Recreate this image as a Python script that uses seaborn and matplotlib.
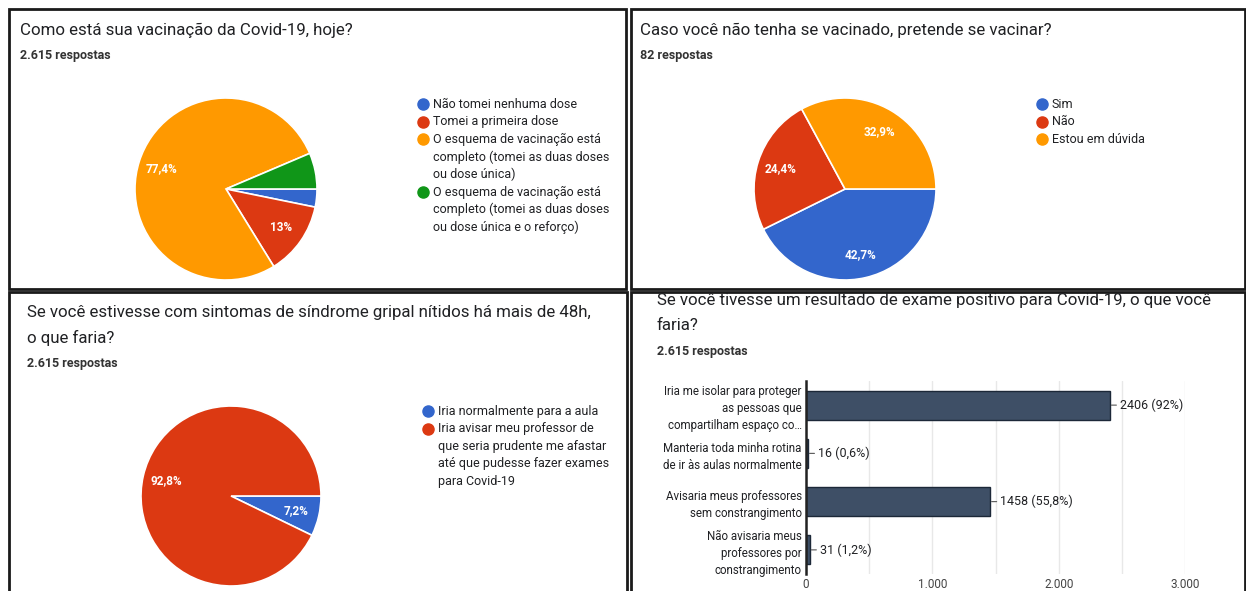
import matplotlib.pyplot as plt
import seaborn as sns
import pandas as pd
from matplotlib.lines import Line2D
from matplotlib.patches import Rectangle

# Question 1: vaccination status (% of 2.615)
vac_labels = [
    "Não tomei nenhuma dose",
    "Tomei a primeira dose",
    "O esquema de vacinação está\ncompleto (tomei as duas doses\nou dose única)",
    "O esquema de vacinação está\ncompleto (tomei as duas doses\nou dose única e o reforço)",
]
vac_pct = [3.2, 13.0, 77.4, 6.4]

# Question 2: intention to vaccinate (% of 82)
intent_labels = ["Sim", "Não", "Estou em dúvida"]
intent_pct = [42.7, 24.4, 32.9]

# Question 3: flu symptoms (% of 2.615)
symptom_labels = [
    "Iria normalmente para a aula",
    "Iria avisar meu professor de\nque seria prudente me afastar\naté que pudesse fazer exames\npara Covid-19",
]
symptom_pct = [7.2, 92.8]

# Question 4: positive test (counts, multiple choice)
positive_labels = [
    "Iria me isolar para proteger\nas pessoas que\ncompartilham espaço co…",
    "Manteria toda minha rotina\nde ir às aulas normalmente",
    "Avisaria meus professores\nsem constrangimento",
    "Não avisaria meus\nprofessores por\nconstrangimento",
]
positive_counts = [2406, 16, 1458, 31]
positive_total = 2615
x_ticks = [0, 1000, 2000, 3000]

google = ["#3366cc", "#dc3912", "#ff9900", "#109618"]
text_col = "#202124"

sns.set_theme(style="white")
plt.rcParams["font.family"] = ["Roboto", "DejaVu Sans"]

W, H = 1246, 591
fig = plt.figure(figsize=(W / 100, H / 100), dpi=100)
fig.patch.set_facecolor("white")


def box(x, y, w, h):
    # pixel box (top-left origin) -> figure fraction
    return [x / W, 1 - (y + h) / H, w / W, h / H]


def fx(x):
    return x / W


def fy(y):
    return 1 - y / H


def fmt_pct(p):
    s = f"{p:.1f}".rstrip("0").rstrip(".")
    return s.replace(".", ",") + "%"


def header(x, y, title, count_text, step=25):
    lines = title.split("\n")
    for k, line in enumerate(lines):
        fig.text(fx(x), fy(y + k * step), line, fontsize=12.2, color=text_col,
                 va="center", ha="left")
    fig.text(fx(x), fy(y + len(lines) * step + 1), count_text, fontsize=9,
             fontweight="bold", color="#333333", va="center", ha="left")


def legend(x, y, labels, colors, step=17.6):
    row = 0
    for lab, col in zip(labels, colors):
        fig.add_artist(Line2D([fx(x)], [fy(y + row * step)], marker="o",
                              markersize=8, color=col, transform=fig.transFigure))
        for line in lab.split("\n"):
            fig.text(fx(x + 10), fy(y + row * step), line, fontsize=9,
                     color=text_col, va="center", ha="left")
            row += 1


def draw_pie(cx, cy, r, values):
    half = r * 1.1
    ax = fig.add_axes(box(cx - half, cy - half, 2 * half, 2 * half))
    ax.pie(values, colors=google[:len(values)], startangle=0, counterclock=False,
           autopct=lambda p: fmt_pct(p) if p >= 7 else "", pctdistance=0.74,
           wedgeprops=dict(edgecolor="white", linewidth=1.2),
           textprops=dict(color="white", fontsize=8.5, fontweight="bold"))
    ax.set_xlim(-1.1, 1.1)
    ax.set_ylim(-1.1, 1.1)
    ax.axis("off")
    return ax


# panel 1
header(20, 30, "Como está sua vacinação da Covid-19, hoje?", "2.615 respostas")
draw_pie(226, 189, 91, vac_pct)
legend(423, 104, vac_labels, google)

# panel 2
header(640, 30, "Caso você não tenha se vacinado, pretende se vacinar?", "82 respostas")
draw_pie(845, 189, 91, intent_pct)
legend(1042, 104, intent_labels, google)

# panel 3
header(27, 313, "Se você estivesse com sintomas de síndrome gripal nítidos há mais de 48h,\no que faria?",
       "2.615 respostas")
draw_pie(231, 496, 90, symptom_pct)
legend(428, 411, symptom_labels, google)

# panel 4: horizontal bars
header(657, 301, "Se você tivesse um resultado de exame positivo para Covid-19, o que você\nfaria?",
       "2.615 respostas")
df = pd.DataFrame({"resposta": positive_labels, "n": positive_counts})
ax4 = fig.add_axes(box(806, 381, 379, 193))
sns.barplot(data=df, y="resposta", x="n", orient="h", color="#3e4f66",
            saturation=1, edgecolor="#1c2838", linewidth=1, width=0.6, ax=ax4)
ax4.set_xlim(0, 3000)
ax4.set_xticks(x_ticks)
ax4.set_xticklabels([f"{v:,}".replace(",", ".") for v in x_ticks], fontsize=8.5, color="#444444")
ax4.set_xticks([500, 1500, 2500], minor=True)
ax4.grid(axis="x", which="both", color="#e8e8e8", linewidth=1)
ax4.set_axisbelow(True)
ax4.set_xlabel("")
ax4.set_ylabel("")
for s in ["top", "right", "bottom"]:
    ax4.spines[s].set_visible(False)
ax4.spines["left"].set_color("#222222")
ax4.spines["left"].set_linewidth(1.8)
ax4.tick_params(axis="both", length=0, pad=3)
for t in ax4.get_yticklabels():
    t.set_fontsize(8.3)
    t.set_linespacing(1.42)
    t.set_color(text_col)
for i, v in enumerate(positive_counts):
    ax4.annotate(f"{v} ({fmt_pct(100 * v / positive_total)})", xy=(v, i), xytext=(7, 0),
                 textcoords="offset points", va="center", ha="left", fontsize=9, color=text_col,
                 arrowprops=dict(arrowstyle="-", color="#555555", lw=0.8, shrinkA=0, shrinkB=1))

# panel borders
for (x0, y0, x1, y1) in [(9, 9, 626, 289), (631, 9, 1245, 289),
                         (9, 292, 627, 620), (631, 292, 1245, 620)]:
    fig.add_artist(Rectangle((fx(x0), fy(y1)), fx(x1 - x0), (y1 - y0) / H, fill=False,
                             edgecolor="#1a1a1a", linewidth=2, transform=fig.transFigure))

fig.savefig("out.png", dpi=100, facecolor="white")
